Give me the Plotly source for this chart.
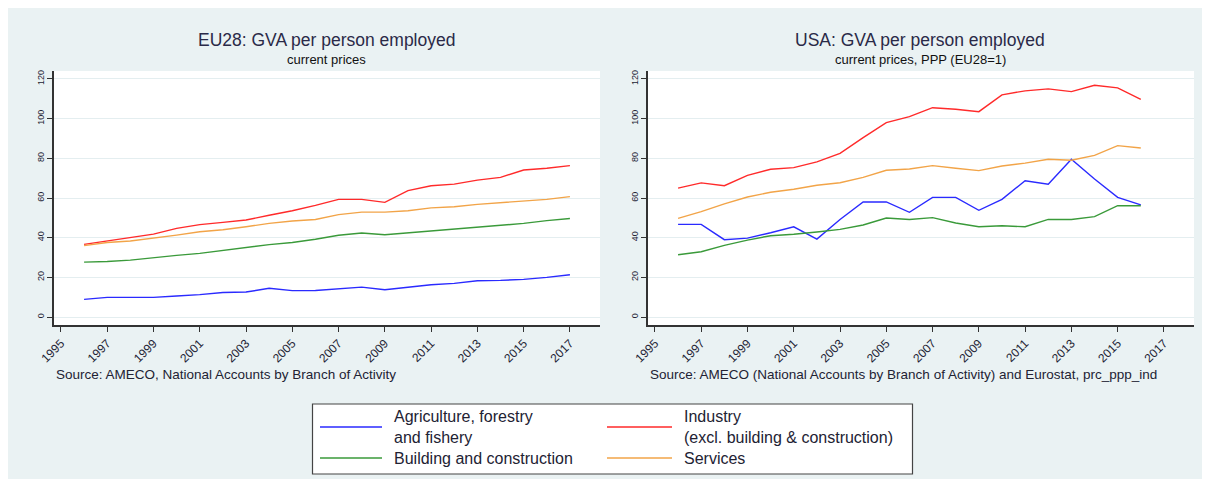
import plotly.graph_objects as go

# ---------------- data ----------------
years_eu = list(range(1996, 2018))
eu_agri = [8.9, 9.9, 9.9, 9.9, 10.6, 11.3, 12.4, 12.6, 14.5, 13.3, 13.4, 14.3, 15.1, 13.8, 15.0, 16.3, 17.0, 18.3, 18.5, 19.0, 20.0, 21.3]
eu_ind = [36.6, 38.3, 40.0, 41.8, 44.7, 46.6, 47.7, 48.9, 51.3, 53.6, 56.3, 59.3, 59.3, 57.8, 63.7, 66.2, 67.0, 69.0, 70.4, 74.1, 75.0, 76.3]
eu_bld = [27.7, 28.0, 28.7, 30.0, 31.1, 32.1, 33.6, 35.0, 36.5, 37.6, 39.2, 41.2, 42.4, 41.5, 42.5, 43.5, 44.2, 45.2, 46.2, 47.2, 48.6, 49.7]
eu_srv = [36.0, 37.6, 38.3, 39.7, 41.3, 43.0, 44.0, 45.5, 47.2, 48.4, 49.2, 51.6, 52.9, 52.9, 53.6, 55.0, 55.6, 56.8, 57.6, 58.7, 59.3, 60.7]

years_us = list(range(1996, 2017))
us_agri = [46.7, 46.7, 39.0, 39.8, 42.5, 45.5, 39.3, 49.2, 58.0, 58.0, 52.8, 60.3, 60.3, 53.8, 59.3, 68.7, 66.9, 79.5, 69.6, 60.3, 56.5]
us_ind = [65.0, 67.6, 66.2, 71.4, 74.5, 75.3, 78.2, 82.5, 90.4, 98.0, 101.0, 105.5, 104.7, 103.5, 112.0, 114.0, 115.0, 113.6, 116.8, 115.5, 109.7]
us_bld = [31.4, 32.9, 36.1, 38.8, 41.0, 41.7, 42.9, 44.2, 46.4, 49.9, 49.2, 50.1, 47.4, 45.5, 46.0, 45.5, 49.2, 49.2, 50.6, 56.1, 56.1]
us_srv = [49.7, 53.1, 57.0, 60.5, 62.9, 64.4, 66.4, 67.7, 70.4, 74.0, 74.6, 76.3, 75.0, 73.8, 76.1, 77.6, 79.5, 79.0, 81.5, 86.4, 85.2]

series_names = ["Agriculture, forestry<br>and fishery", "Industry<br>(excl. building & construction)",
                "Building and construction", "Services"]
series_colors = ["#2a2aff", "#ff2a2a", "#3a9a3a", "#f2a448"]

x_ticks = list(range(1995, 2018, 2))
y_ticks = [0, 20, 40, 60, 80, 100, 120]

# ---------------- layout helpers ----------------
OFF = 8  # page body margin in the browser
W, H = 1210 - 2 * OFF, 487 - 2 * OFF
def X(px):
    return (px - OFF) / W
def Y(py):
    return 1 - (py - OFF) / H

BG = "#EAF2F3"
FONT = "Liberation Sans, Arial, sans-serif"
TXT = "#222233"

fig = go.Figure()

eu_data = [eu_agri, eu_ind, eu_bld, eu_srv]
us_data = [us_agri, us_ind, us_bld, us_srv]
for vals, col in zip(eu_data, series_colors):
    fig.add_trace(go.Scatter(x=years_eu, y=vals, mode="lines", line=dict(color=col, width=1.4),
                             xaxis="x", yaxis="y", showlegend=False))
for vals, col in zip(us_data, series_colors):
    fig.add_trace(go.Scatter(x=years_us, y=vals, mode="lines", line=dict(color=col, width=1.4),
                             xaxis="x2", yaxis="y2", showlegend=False))

xa = dict(range=[1994.7, 2018.3], tickvals=x_ticks, ticktext=[str(t) for t in x_ticks],
          tickangle=-45, ticks="outside", ticklen=5, tickwidth=1.2, tickcolor="#333",
          showline=True, linecolor="#333", linewidth=1.5, showgrid=False, zeroline=False,
          tickfont=dict(family=FONT, size=12, color=TXT), fixedrange=True)
ya = dict(range=[-4, 124], tickvals=y_ticks, tickangle=-90, ticks="outside", ticklen=5,
          tickwidth=1.2, tickcolor="#333", showline=True, linecolor="#333", linewidth=1.5,
          showgrid=True, gridcolor="#E4EEF0", gridwidth=1.2, zeroline=False,
          tickfont=dict(family=FONT, size=9, color=TXT), fixedrange=True)

fig.update_layout(
    width=W, height=H,
    margin=dict(l=0, r=0, t=0, b=0, autoexpand=False),
    paper_bgcolor=BG, plot_bgcolor="white",
    xaxis=dict(xa, domain=[X(54), X(600)], anchor="y"),
    yaxis=dict(ya, domain=[Y(325), Y(71)], anchor="x"),
    xaxis2=dict(xa, domain=[X(648), X(1194)], anchor="y2"),
    yaxis2=dict(ya, domain=[Y(325), Y(71)], anchor="x2"),
    showlegend=False,
)

shapes = []
# legend box
shapes.append(dict(type="rect", xref="paper", yref="paper", x0=X(312.5), x1=X(912.5),
                   y0=Y(474), y1=Y(404), fillcolor="white", line=dict(color="#444", width=1.2),
                   layer="below"))
annotations = []

# legend entries (manual 2x2 layout)
leg_pos = [(320, 382, 427, 392), (607, 672, 427, 682), (320, 382, 458, 392), (607, 672, 458, 682)]
for (lx0, lx1, ly, tx), name, col in zip(leg_pos, series_names, series_colors):
    shapes.append(dict(type="line", xref="paper", yref="paper", x0=X(lx0), x1=X(lx1),
                       y0=Y(ly), y1=Y(ly), line=dict(color=col, width=1.4)))
    annotations.append(dict(xref="paper", yref="paper", x=X(tx), y=Y(ly), text=name,
                            showarrow=False, xanchor="left", yanchor="middle", align="left",
                            font=dict(family=FONT, size=16, color=TXT)))

# titles
for cx, title, sub in [(326.5, "EU28: GVA per person employed", "current prices"),
                       (920, "USA: GVA per person employed", "current prices, PPP (EU28=1)")]:
    annotations.append(dict(xref="paper", yref="paper", x=X(cx), y=Y(40), text=title,
                            showarrow=False, xanchor="center", yanchor="middle",
                            font=dict(family=FONT, size=17.5, color="#2a2a48")))
    annotations.append(dict(xref="paper", yref="paper", x=X(cx), y=Y(60), text=sub,
                            showarrow=False, xanchor="center", yanchor="middle",
                            font=dict(family=FONT, size=13, color="#111")))

# sources
annotations.append(dict(xref="paper", yref="paper", x=X(54), y=Y(374),
                        text="Source: AMECO, National Accounts by Branch of Activity",
                        showarrow=False, xanchor="left", yanchor="middle",
                        font=dict(family=FONT, size=13.5, color=TXT)))
annotations.append(dict(xref="paper", yref="paper", x=X(648), y=Y(374),
                        text="Source: AMECO (National Accounts by Branch of Activity) and Eurostat, prc_ppp_ind",
                        showarrow=False, xanchor="left", yanchor="middle",
                        font=dict(family=FONT, size=13.5, color=TXT)))

fig.update_layout(shapes=shapes, annotations=annotations)
fig.write_html("out.html")
